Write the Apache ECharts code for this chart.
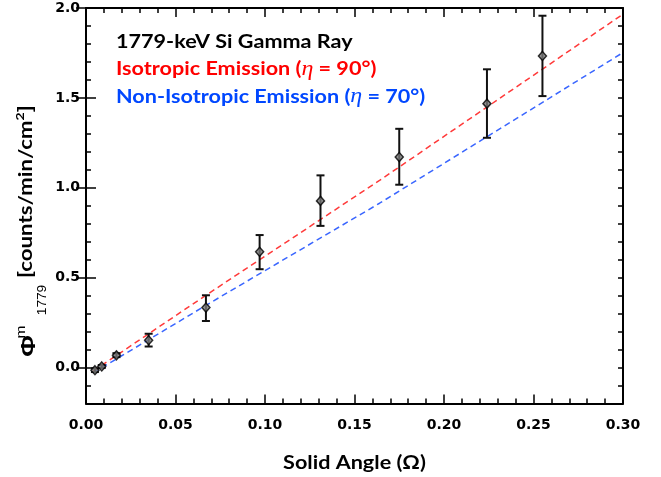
<!DOCTYPE html>
<html>
<head>
<meta charset="utf-8">
<script src="https://cdn.jsdelivr.net/npm/echarts@6/dist/echarts.min.js"></script>
<style>
  html, body { margin: 0; padding: 0; background: #fff; }
  #chart { width: 661px; height: 477px; }
</style>
</head>
<body>
<div id="chart"></div>
<script>
// measured points (solid angle vs flux) with error bar ends
var solidAngle = [0.005, 0.0088, 0.017, 0.035, 0.067, 0.097, 0.131, 0.175, 0.224, 0.255];
var flux       = [-0.015, 0.006, 0.068, 0.152, 0.334, 0.644, 0.927, 1.171, 1.468, 1.733];
var errLow     = [-0.025, -0.002, 0.058, 0.117, 0.259, 0.547, 0.788, 1.017, 1.278, 1.510];
var errHigh    = [-0.005, 0.014, 0.080, 0.188, 0.402, 0.737, 1.069, 1.328, 1.659, 1.957];

// model curves
var lineX     = [0.004, 0.067, 0.164, 0.30];
var isoY      = [-0.02, 0.402, 1.041, 1.966];
var nonIsoY   = [-0.03, 0.346, 0.914, 1.752];

var yMajor = [0, 0.5, 1.0, 1.5, 2.0];

var chart = echarts.init(document.getElementById('chart'));

var pts = [];
var bars = [];
var iso = [];
var nonIso = [];
for (var i = 0; i < solidAngle.length; i++) {
    pts.push([solidAngle[i], flux[i]]);
    bars.push([solidAngle[i], errLow[i], errHigh[i]]);
}
for (var j = 0; j < lineX.length; j++) {
    iso.push([lineX[j], isoY[j]]);
    nonIso.push([lineX[j], nonIsoY[j]]);
}

var axisLine = {show: true, onZero: false, lineStyle: {color: '#000', width: 2}};
var tickFont = {fontFamily: 'DejaVu Sans', fontWeight: 'bold', fontSize: 14, color: '#000'};

var xBase = {
    type: 'value', min: 0, max: 0.3, interval: 0.05,
    axisLine: axisLine,
    axisTick: {show: true, inside: true, length: 9, lineStyle: {color: '#000', width: 1.5}},
    minorTick: {show: true, splitNumber: 5, length: 5, lineStyle: {color: '#000', width: 1.5}},
    splitLine: {show: false}
};

var yMinor = {
    type: 'value', min: -0.2, max: 2.0, interval: 0.1,
    axisLine: axisLine,
    axisTick: {show: true, inside: true, length: 5, lineStyle: {color: '#000', width: 1.5}},
    splitLine: {show: false}
};
var yMajorAxis = {
    type: 'value', min: -0.2, max: 2.0, interval: 0.1,
    axisLine: {show: false},
    axisTick: {show: true, inside: true, length: 10, customValues: yMajor,
               lineStyle: {color: '#000', width: 1.5}},
    axisLabel: {show: false},
    splitLine: {show: false}
};

// text helpers (the source font is wide, so stretch a little along the reading direction)
function legendLine(txt, y, color) {
    return {
        type: 'text', x: 116, y: y, scaleX: 1.2, z: 10,
        style: {
            text: txt, fill: color, fontFamily: 'Lato', fontWeight: 'bold', fontSize: 18,
            align: 'left', verticalAlign: 'middle',
            rich: {i: {fontFamily: 'Liberation Serif', fontStyle: 'italic', fontSize: 20, fill: color}}
        }
    };
}
var R = Math.PI / 2;

var option = {
    animation: false,
    backgroundColor: '#fff',
    grid: {left: 86, right: 38, top: 8, bottom: 73.5, containLabel: false},
    graphic: {elements: [
        legendLine('1779-keV Si Gamma Ray', 42, '#000'),
        legendLine('Isotropic Emission ({i|η} = 90°)', 69.5, '#ff0000'),
        legendLine('Non-Isotropic Emission ({i|η} = 70°)', 97, '#0047ff'),
        {type: 'text', x: 354.5, y: 463, scaleX: 1.2,
         style: {text: 'Solid Angle (Ω)', fill: '#000', fontFamily: 'Lato', fontWeight: 'bold', fontSize: 18,
                 align: 'center', verticalAlign: 'middle'}},
        // y axis title, rotated
        {type: 'text', x: 29.5, y: 346, rotation: R, scaleX: 1.25,
         style: {text: 'Φ', fill: '#000', fontFamily: 'Liberation Sans', fontWeight: 'bold', fontSize: 21,
                 align: 'center', verticalAlign: 'middle'}},
        {type: 'text', x: 21, y: 332, rotation: R, scaleX: 1.2,
         style: {text: 'm', fill: '#000', fontFamily: 'Liberation Sans', fontSize: 13,
                 align: 'center', verticalAlign: 'middle'}},
        {type: 'text', x: 42.5, y: 300, rotation: R, scaleX: 1.05,
         style: {text: '1779', fill: '#000', fontFamily: 'Liberation Sans', fontSize: 13,
                 align: 'center', verticalAlign: 'middle'}},
        {type: 'text', x: 26, y: 278, rotation: R, scaleX: 1.17,
         style: {text: '[counts/min/cm{s|2}]', fill: '#000', fontFamily: 'Lato', fontWeight: 'bold', fontSize: 19,
                 align: 'left', verticalAlign: 'middle',
                 rich: {s: {fontFamily: 'Lato', fontWeight: 'bold', fontSize: 12, fill: '#000',
                            verticalAlign: 'top', lineHeight: 24}}}}
    ]},
    xAxis: [
        echarts.util.merge({
            position: 'bottom',
            axisLabel: echarts.util.extend({margin: 15, formatter: function(v){ return v.toFixed(2); }}, tickFont)
        }, xBase, false),
        echarts.util.merge({position: 'top', axisLabel: {show: false}}, xBase, false)
    ],
    yAxis: [
        echarts.util.merge({
            position: 'left',
            axisLabel: echarts.util.extend({margin: 6, formatter: function(v){
                var r = Math.round(v * 10);
                return (r % 5 === 0) ? (r / 10).toFixed(1) : '';
            }}, tickFont)
        }, yMinor, false),
        echarts.util.merge({position: 'left'}, yMajorAxis, false),
        echarts.util.merge({position: 'right', axisLabel: {show: false}}, yMinor, false),
        echarts.util.merge({position: 'right'}, yMajorAxis, false)
    ],
    series: [
        {
            type: 'line', name: 'iso', data: iso, symbol: 'none', z: 2,
            lineStyle: {color: '#ff3a3a', width: 1.5, type: [6, 4]}
        },
        {
            type: 'line', name: 'noniso', data: nonIso, symbol: 'none', z: 2,
            lineStyle: {color: '#3a66ff', width: 1.5, type: [6, 4]}
        },
        {
            type: 'custom', name: 'err', data: bars, z: 3,
            renderItem: function(params, api) {
                var x = api.value(0);
                var lo = api.coord([x, api.value(1)]);
                var hi = api.coord([x, api.value(2)]);
                var w = 4;
                var st = {stroke: '#111', lineWidth: 2};
                return {
                    type: 'group',
                    children: [
                        {type: 'line', shape: {x1: lo[0], y1: lo[1], x2: hi[0], y2: hi[1]}, style: st},
                        {type: 'line', shape: {x1: lo[0] - w, y1: lo[1], x2: lo[0] + w, y2: lo[1]}, style: st},
                        {type: 'line', shape: {x1: hi[0] - w, y1: hi[1], x2: hi[0] + w, y2: hi[1]}, style: st}
                    ]
                };
            }
        },
        {
            type: 'scatter', name: 'data', data: pts, z: 4,
            symbol: 'diamond', symbolSize: [8, 9],
            itemStyle: {color: '#777', borderColor: '#000', borderWidth: 1.5}
        }
    ]
};

chart.setOption(option);
</script>
</body>
</html>
